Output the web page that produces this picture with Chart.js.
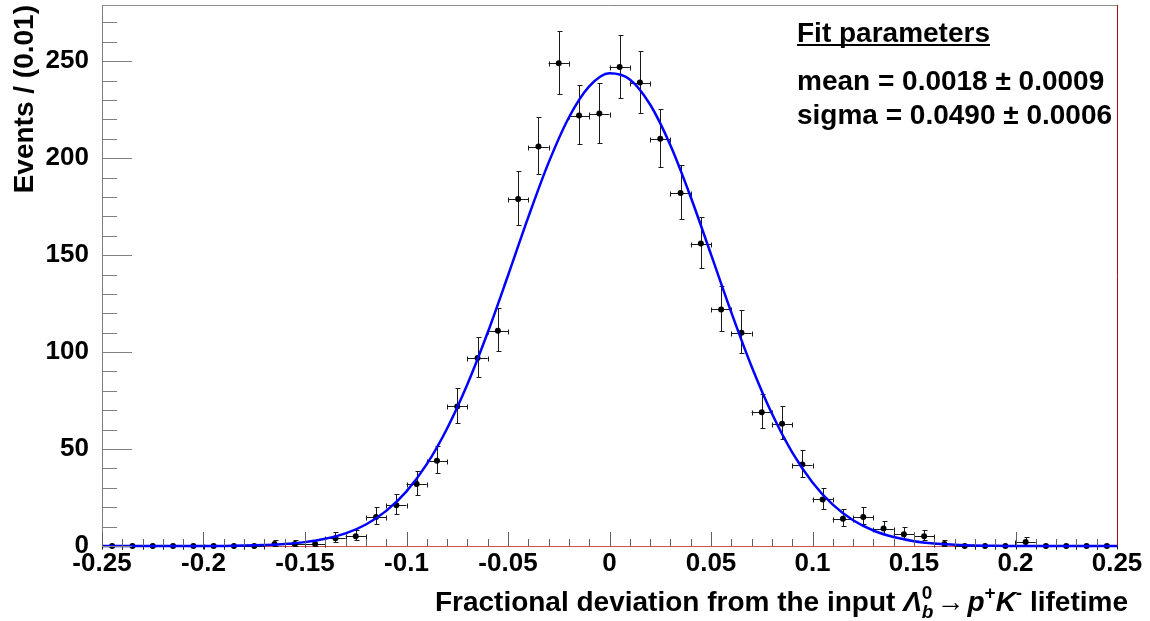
<!DOCTYPE html>
<html>
<head>
<meta charset="utf-8">
<script src="https://cdn.jsdelivr.net/npm/chart.js@4.4.1/dist/chart.umd.min.js"></script>
<style>
  html, body { margin: 0; padding: 0; background: #fff; }
  canvas { display: block; }
</style>
</head>
<body>
<canvas id="fitChart" width="1150" height="621"></canvas>
<script>
// centres des bins (largeur 0.01) et nombre d'evenements
const binCenters = [
  -0.245, -0.235, -0.225, -0.215, -0.205, -0.195, -0.185, -0.175, -0.165, -0.155,
  -0.145, -0.135, -0.125, -0.115, -0.105, -0.095, -0.085, -0.075, -0.065, -0.055,
  -0.045, -0.035, -0.025, -0.015, -0.005, 0.005, 0.015, 0.025, 0.035, 0.045,
  0.055, 0.065, 0.075, 0.085, 0.095, 0.105, 0.115, 0.125, 0.135, 0.145,
  0.155, 0.165, 0.175, 0.185, 0.195, 0.205, 0.215, 0.225, 0.235, 0.245
];
const counts = [
  0, 0, 0, 0, 0, 0, 0, 0, 1, 1,
  1, 4, 5, 15, 21, 32, 44, 72, 97, 111,
  179, 206, 249, 222, 223, 247, 239, 210, 182, 156,
  122, 110, 69, 63, 42, 24, 14, 15, 9, 6,
  5, 1, 0, 0, 0, 2, 0, 0, 0, 0
];
// barres d'erreur (Poisson, asymetriques)
const errLow = [
  0, 0, 0, 0, 0, 0, 0, 0, 0.83, 0.83,
  0.83, 1.91, 2.16, 3.83, 4.55, 5.62, 6.6, 8.46, 9.83, 10.52,
  13.38, 14.35, 15.78, 14.9, 14.93, 15.72, 15.46, 14.49, 13.49, 12.48,
  11.03, 10.47, 8.28, 7.91, 6.44, 4.87, 3.7, 3.83, 2.94, 2.38,
  2.16, 0.83, 0, 0, 0, 1.29, 0, 0, 0, 0
];
const errHigh = [
  0, 0, 0, 0, 0, 0, 0, 0, 2.3, 2.3,
  2.3, 3.16, 3.38, 4.95, 5.65, 6.71, 7.68, 9.53, 10.89, 11.57,
  14.42, 15.39, 16.82, 15.94, 15.98, 16.76, 16.5, 15.53, 14.53, 13.52,
  12.08, 11.52, 9.35, 8.98, 7.52, 5.97, 4.83, 4.95, 4.11, 3.58,
  3.38, 2.3, 0, 0, 0, 2.64, 0, 0, 0, 0
];
const binHalfWidth = 0.005;

// courbe d'ajustement (gaussienne) lue tous les 0.01
const fitX = [
  -0.25, -0.24, -0.23, -0.22, -0.21, -0.2, -0.19, -0.18, -0.17, -0.16,
  -0.15, -0.14, -0.13, -0.12, -0.11, -0.1, -0.09, -0.08, -0.07, -0.06,
  -0.05, -0.04, -0.03, -0.02, -0.01, 0, 0.01, 0.02, 0.03, 0.04,
  0.05, 0.06, 0.07, 0.08, 0.09, 0.1, 0.11, 0.12, 0.13, 0.14,
  0.15, 0.16, 0.17, 0.18, 0.19, 0.2, 0.21, 0.22, 0.23, 0.24, 0.25
];
const fitY = [
  0, 0, 0, 0, 0, 0, 0.05, 0.2, 0.5, 1.0,
  2.0, 3.7, 6.5, 11.1, 18.1, 28.2, 42.2, 60.6, 83.4, 110.1,
  139.5, 169.6, 197.7, 221.0, 237.0, 243.8, 240.6, 227.7, 206.7, 180.0,
  150.4, 120.5, 92.6, 68.3, 48.3, 32.8, 21.3, 13.3, 8.0, 4.6,
  2.5, 1.3, 0.7, 0.3, 0.1, 0, 0, 0, 0, 0, 0
];

const xTickValues = [-0.25, -0.2, -0.15, -0.1, -0.05, 0, 0.05, 0.1, 0.15, 0.2, 0.25];
const xTickLabels = ['-0.25', '-0.2', '-0.15', '-0.1', '-0.05', '0', '0.05', '0.1', '0.15', '0.2', '0.25'];
const yTickValues = [0, 50, 100, 150, 200, 250];
const yTickLabels = ['0', '50', '100', '150', '200', '250'];
const yAxisTitle = 'Events / (0.01)';
const fitTitle = 'Fit parameters';
const fitLines = ['mean = 0.0018 \u00b1 0.0009', 'sigma = 0.0490 \u00b1 0.0006'];

const FONT = '"Liberation Sans", Arial, Helvetica, sans-serif';

function crisp(v) {
    return Math.round(v) + 0.5;
}

// barres d'erreur, graduations internes, cadre et textes
const rootStyle = {
    id: 'rootStyle',
    beforeDatasetsDraw(chart) {
        const { ctx, scales: { x, y } } = chart;
        ctx.save();
        ctx.strokeStyle = '#1a1a1a';
        ctx.lineWidth = 1;
        binCenters.forEach((c, i) => {
            const px = crisp(x.getPixelForValue(c));
            const py = crisp(y.getPixelForValue(counts[i]));
            const xl = x.getPixelForValue(c - binHalfWidth);
            const xr = x.getPixelForValue(c + binHalfWidth);
            ctx.beginPath();
            // horizontale
            ctx.moveTo(xl, py); ctx.lineTo(xr, py);
            ctx.moveTo(crisp(xl), py - 2); ctx.lineTo(crisp(xl), py + 3);
            ctx.moveTo(crisp(xr), py - 2); ctx.lineTo(crisp(xr), py + 3);
            if (errHigh[i] > 0) {
                const yt = crisp(y.getPixelForValue(counts[i] + errHigh[i]));
                const yb = crisp(y.getPixelForValue(counts[i] - errLow[i]));
                ctx.moveTo(px, yt); ctx.lineTo(px, yb);
                ctx.moveTo(px - 2, yt); ctx.lineTo(px + 3, yt);
                ctx.moveTo(px - 2, yb); ctx.lineTo(px + 3, yb);
            }
            ctx.stroke();
        });
        ctx.restore();
    },
    afterDraw(chart) {
        const { ctx, chartArea: a, scales: { x, y } } = chart;
        ctx.save();
        ctx.lineWidth = 1;

        // graduations y (vers l'interieur)
        ctx.strokeStyle = '#808080';
        ctx.beginPath();
        for (let v = 0; v <= y.max; v += 10) {
            const py = crisp(y.getPixelForValue(v));
            const len = yTickValues.includes(v) ? 30 : 15;
            ctx.moveTo(a.left, py); ctx.lineTo(a.left + len, py);
        }
        ctx.stroke();

        // graduations x
        ctx.strokeStyle = '#606060';
        ctx.beginPath();
        for (let k = 0; k <= 50; k++) {
            const v = x.min + k * 0.01;
            const px = crisp(x.getPixelForValue(v));
            const len = k % 5 === 0 ? 14 : 7;
            ctx.moveTo(px, a.bottom); ctx.lineTo(px, a.bottom - len);
        }
        ctx.stroke();

        // cadre haut et droit
        ctx.strokeStyle = '#8c8c8c';
        ctx.beginPath();
        ctx.moveTo(a.left, crisp(a.top)); ctx.lineTo(a.right, crisp(a.top));
        ctx.stroke();
        ctx.strokeStyle = '#a01010';
        ctx.beginPath();
        ctx.moveTo(crisp(a.right), a.top); ctx.lineTo(crisp(a.right), a.bottom);
        ctx.stroke();

        ctx.fillStyle = '#000';
        ctx.textBaseline = 'alphabetic';

        // titre de l'axe y
        ctx.save();
        ctx.font = 'bold 28px ' + FONT;
        ctx.translate(33, 5);
        ctx.rotate(-Math.PI / 2);
        ctx.textAlign = 'right';
        ctx.fillText(yAxisTitle, 0, 0);
        ctx.restore();

        // parametres du fit
        ctx.font = 'bold 28px ' + FONT;
        ctx.textAlign = 'left';
        ctx.fillText(fitTitle, 797, 42);
        const w = ctx.measureText(fitTitle).width;
        ctx.fillRect(797, 44, w, 2);
        ctx.fillText(fitLines[0], 797, 90);
        ctx.fillText(fitLines[1], 797, 124);

        // titre de l'axe x avec indices / exposants
        const big = 'bold 28px ' + FONT;
        const bigIt = 'italic bold 28px ' + FONT;
        const small = 'bold 19px ' + FONT;
        const smallIt = 'italic bold 19px ' + FONT;
        const parts = [
            { t: 'Fractional deviation from the input ', f: big, dy: 0 },
            { t: '\u039b', f: bigIt, dy: 0 },
            { t: '0', f: small, dy: -12, sub: 'b', subF: smallIt, subDy: 7 },
            { t: '\u2192', f: big, dy: 0, pad: 3 },
            { t: 'p', f: bigIt, dy: 0 },
            { t: '+', f: small, dy: -12 },
            { t: 'K', f: bigIt, dy: 0 },
            { t: '-', f: small, dy: -12 },
            { t: ' lifetime', f: big, dy: 0 }
        ];
        let total = 0;
        parts.forEach(p => {
            ctx.font = p.f;
            let pw = ctx.measureText(p.t).width;
            if (p.sub) {
                ctx.font = p.subF;
                pw = Math.max(pw, ctx.measureText(p.sub).width);
            }
            p.w = pw + 2 * (p.pad || 0);
            total += p.w;
        });
        let cx = 1128 - total;
        const base = 611;
        parts.forEach(p => {
            ctx.font = p.f;
            ctx.fillText(p.t, cx + (p.pad || 0), base + p.dy);
            if (p.sub) {
                ctx.font = p.subF;
                ctx.fillText(p.sub, cx, base + p.subDy);
            }
            cx += p.w;
        });

        ctx.restore();
    }
};

const ctx = document.getElementById('fitChart').getContext('2d');
const chart = new Chart(ctx, {
    type: 'scatter',
    data: {
        datasets: [
            {
                label: 'fit',
                data: fitX.map((v, i) => ({ x: v, y: fitY[i] })),
                showLine: true,
                borderColor: '#0000ff',
                borderWidth: 2.5,
                pointRadius: 0,
                cubicInterpolationMode: 'monotone',
                clip: false
            },
            {
                label: 'data',
                data: binCenters.map((c, i) => ({ x: c, y: counts[i] })),
                showLine: false,
                pointRadius: 3,
                pointBackgroundColor: '#000',
                pointBorderColor: '#000',
                pointBorderWidth: 0,
                clip: false
            }
        ]
    },
    options: {
        responsive: false,
        animation: false,
        events: [],
        layout: { padding: { top: 5, right: 33, left: 0, bottom: 0 } },
        plugins: {
            legend: { display: false },
            tooltip: { enabled: false }
        },
        scales: {
            x: {
                type: 'linear',
                min: -0.25,
                max: 0.25,
                afterBuildTicks: s => { s.ticks = xTickValues.map(v => ({ value: v })); },
                afterFit: s => { s.height = 75; s.paddingLeft = 0; s.paddingRight = 0; },
                grid: { display: false },
                border: { color: 'rgb(215, 80, 80)', width: 1 },
                ticks: {
                    callback: (v, i) => xTickLabels[i],
                    color: '#000',
                    font: { family: FONT, size: 26, weight: 'bold' },
                    padding: -6,
                    maxRotation: 0,
                    autoSkip: false
                }
            },
            y: {
                type: 'linear',
                min: 0,
                max: 279,
                afterBuildTicks: s => { s.ticks = yTickValues.map(v => ({ value: v })); },
                afterFit: s => { s.width = 102; s.paddingTop = 0; s.paddingBottom = 0; },
                grid: { display: false },
                border: { color: '#808080', width: 1 },
                ticks: {
                    callback: (v, i) => yTickLabels[i],
                    color: '#000',
                    font: { family: FONT, size: 26, weight: 'bold' },
                    padding: 5
                }
            }
        }
    },
    plugins: [rootStyle]
});
</script>
</body>
</html>
